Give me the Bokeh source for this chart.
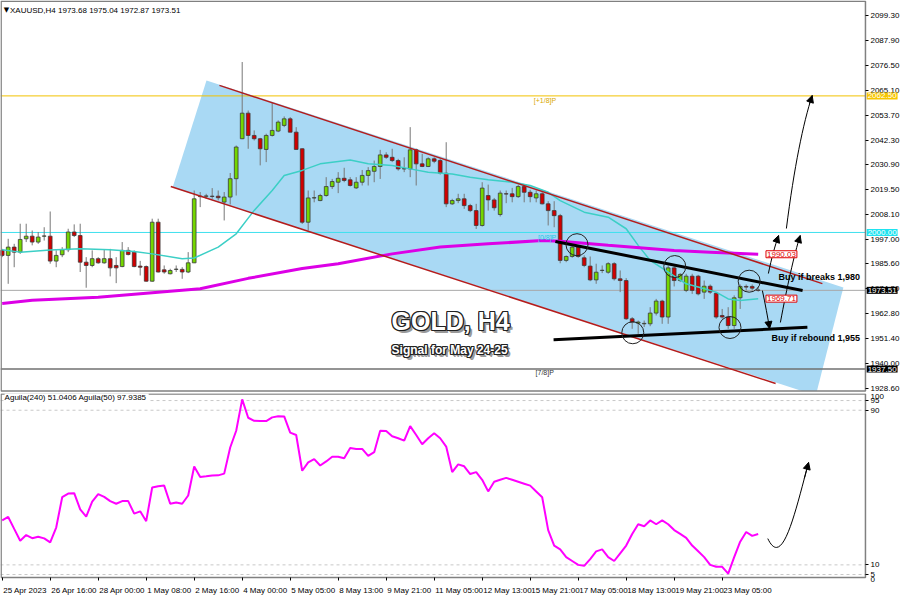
from bokeh.plotting import figure
from bokeh.layouts import column
from bokeh.models import (ColumnDataSource, FixedTicker, Label, Range1d,
                          Arrow, NormalHead, PrintfTickFormatter)
from bokeh.core.properties import value
from bokeh.embed import file_html
from bokeh.resources import INLINE

# ---------------- data ----------------
bar_open = [1991.8, 1989.5, 1993.3, 1991.0, 1997.1, 1998.3, 1995.6, 1998.3, 1998.3, 1986.9,
            1989.8, 1992.1, 2000.2, 1998.6, 1986.4, 1984.9, 1988.0, 1986.1, 1988.0, 1984.9,
            1984.4, 1991.8, 1991.0, 1984.6, 1984.4, 1977.7, 2004.7, 1982.9, 1981.1, 1983.1,
            1983.1, 1981.9, 1986.1, 2016.4, 2016.6, 2016.6, 2016.6, 2013.9, 2016.2, 2024.6,
            2042.9, 2054.6, 2044.4, 2042.9, 2038.0, 2044.4, 2046.4, 2049.0, 2052.0, 2045.9,
            2038.3, 2004.7, 2015.8, 2014.6, 2016.9, 2021.0, 2023.0, 2024.8, 2024.1, 2020.4,
            2023.0, 2026.1, 2028.0, 2030.2, 2035.5, 2034.4, 2032.9, 2029.1, 2029.1, 2037.8,
            2031.4, 2030.2, 2033.7, 2032.9, 2027.1, 2013.1, 2014.6, 2015.4, 2012.3, 2010.0,
            2003.2, 2016.9, 2014.9, 2008.2, 2017.7, 2017.7, 2016.4, 2021.0, 2018.4, 2015.8,
            2017.7, 2013.1, 2010.0, 2007.7, 1987.2, 1989.0, 1993.3, 1988.4, 1984.6, 1978.3,
            1982.6, 1981.8, 1985.7, 1978.8, 1978.0, 1960.5, 1958.5, 1958.2, 1958.2, 1963.1,
            1968.6, 1961.3, 1983.8, 1978.0, 1973.5, 1980.0, 1980.0, 1972.7, 1975.4, 1972.2,
            1962.0, 1961.3, 1957.4, 1970.1, 1975.3, 1975.3, 1973.68]
bar_high = [1992.5, 1997.1, 1994.8, 2004.0, 2004.0, 2000.9, 2000.2, 2002.4, 2009.6, 1991.8,
            1993.3, 2001.7, 2003.7, 2004.0, 1988.7, 1991.8, 1988.7, 1992.2, 1992.5, 1988.7,
            1995.6, 1993.3, 1991.8, 1987.0, 1984.9, 2006.3, 2006.3, 1984.9, 1983.4, 1984.9,
            1984.1, 1991.0, 2019.2, 2018.5, 2017.7, 2020.3, 2019.2, 2018.5, 2027.2, 2039.8,
            2078.0, 2055.8, 2046.7, 2043.3, 2045.2, 2059.3, 2051.3, 2053.1, 2052.8, 2048.2,
            2038.5, 2019.2, 2019.2, 2017.7, 2025.3, 2024.5, 2027.6, 2029.6, 2025.3, 2025.3,
            2028.6, 2029.9, 2032.9, 2037.8, 2036.7, 2038.3, 2033.7, 2034.4, 2048.2, 2038.3,
            2036.0, 2034.4, 2034.4, 2033.7, 2041.3, 2015.4, 2017.7, 2017.7, 2013.1, 2013.1,
            2023.0, 2021.9, 2015.8, 2019.2, 2019.2, 2020.4, 2021.9, 2021.9, 2019.5, 2019.2,
            2018.4, 2014.3, 2014.3, 2008.5, 1989.5, 1994.1, 1994.1, 1989.5, 1989.0, 1985.7,
            1984.9, 1986.4, 1986.4, 1982.6, 1979.1, 1961.3, 1959.7, 1959.7, 1965.8, 1969.6,
            1969.2, 1984.9, 1984.9, 1981.4, 1981.1, 1981.1, 1980.6, 1978.0, 1976.2, 1972.7,
            1965.0, 1965.8, 1971.2, 1976.2, 1976.2, 1976.2, 1975.04]
bar_low = [1988.7, 1976.5, 1984.1, 1990.2, 1995.6, 1994.1, 1994.8, 1996.3, 1985.7, 1984.1,
           1988.7, 1991.0, 1997.9, 1981.9, 1974.7, 1984.1, 1985.7, 1985.7, 1979.9, 1976.8,
           1984.1, 1989.5, 1984.1, 1980.3, 1977.5, 1977.5, 1981.7, 1981.1, 1980.8, 1981.9,
           1978.8, 1981.4, 1986.0, 2011.6, 2015.4, 2015.4, 2014.7, 2005.5, 2012.8, 2016.9,
           2042.7, 2038.3, 2042.1, 2030.7, 2032.2, 2043.9, 2045.9, 2048.2, 2045.9, 2038.0,
           2003.9, 2000.9, 2013.8, 2014.3, 2016.4, 2019.9, 2018.0, 2023.0, 2021.0, 2019.9,
           2021.5, 2021.5, 2023.0, 2024.5, 2033.7, 2032.2, 2028.3, 2027.6, 2025.3, 2021.5,
           2029.9, 2029.9, 2031.7, 2026.5, 2011.6, 2012.6, 2013.4, 2010.8, 2009.3, 2001.6,
           2002.7, 2010.0, 2010.0, 2007.3, 2013.4, 2013.8, 2015.8, 2013.8, 2013.8, 2013.8,
           2012.8, 2003.2, 2002.4, 1985.9, 1986.4, 1988.4, 1988.4, 1984.1, 1977.7, 1976.5,
           1981.4, 1981.1, 1978.0, 1972.7, 1960.0, 1955.9, 1953.6, 1956.7, 1957.1, 1962.0,
           1958.2, 1958.2, 1975.3, 1977.3, 1972.7, 1971.9, 1971.2, 1969.6, 1971.9, 1960.5,
           1960.5, 1955.9, 1955.9, 1965.0, 1973.5, 1973.5, 1972.87]
bar_close = [1989.5, 1993.3, 1991.0, 1996.8, 1998.3, 1995.6, 1997.9, 1998.4, 1986.9, 1989.5,
             1992.1, 2000.2, 1998.6, 1986.4, 1984.9, 1988.0, 1986.1, 1988.0, 1983.8, 1983.8,
             1991.8, 1989.9, 1984.4, 1984.1, 1977.7, 2004.7, 1981.9, 1981.9, 1982.6, 1983.2,
             1981.9, 1986.1, 2015.4, 2016.6, 2016.7, 2016.5, 2015.9, 2016.2, 2024.6, 2039.1,
             2054.6, 2044.4, 2042.9, 2038.3, 2044.4, 2046.7, 2050.5, 2052.0, 2045.9, 2038.0,
             2004.7, 2015.8, 2015.9, 2016.9, 2021.0, 2023.3, 2024.8, 2023.8, 2021.5, 2023.0,
             2026.1, 2028.3, 2030.2, 2035.5, 2034.4, 2032.9, 2029.1, 2029.2, 2037.8, 2031.4,
             2030.2, 2033.7, 2032.6, 2027.1, 2013.1, 2014.6, 2015.4, 2012.3, 2010.0, 2003.2,
             2020.3, 2014.9, 2011.3, 2018.0, 2017.6, 2016.4, 2021.0, 2018.4, 2016.4, 2017.7,
             2013.1, 2010.0, 2007.7, 1987.2, 1989.0, 1993.3, 1989.0, 1984.9, 1978.3, 1981.8,
             1982.7, 1985.7, 1978.8, 1978.0, 1960.5, 1959.0, 1959.0, 1958.4, 1963.1, 1968.6,
             1961.3, 1983.8, 1978.0, 1980.8, 1980.0, 1973.5, 1971.9, 1975.4, 1972.7, 1961.3,
             1961.3, 1957.4, 1970.1, 1975.3, 1975.0, 1974.5, 1973.51]

ma_fast_idx = [0, 3, 8, 13, 18, 22, 25, 30, 32, 36, 39, 42, 45, 47, 50, 53, 58, 61, 65, 68,
               71, 75, 78, 81, 85, 88, 91, 93, 97, 101, 104, 106, 108, 111, 114, 116, 119, 121,
               123, 126]
ma_fast_val = [1992.1, 1991.0, 1992.0, 1992.5, 1992.1, 1991.3, 1990.2, 1988.0, 1988.3, 1993.3,
               1999.4, 2010.1, 2019.2, 2026.1, 2028.4, 2031.4, 2033.2, 2031.4, 2030.6, 2029.1,
               2027.6, 2026.8, 2025.3, 2024.1, 2023.0, 2021.5, 2018.4, 2014.6, 2009.3, 2007.0,
               2001.7, 1994.1, 1987.2, 1981.9, 1976.5, 1975.0, 1972.7, 1969.6, 1968.9, 1969.7]
ma_slow_idx = [0, 5, 16, 33, 41, 50, 56, 65, 73, 81, 90, 93, 101, 112, 118, 126]
ma_slow_val = [1967.5, 1969.0, 1970.4, 1974.2, 1979.0, 1983.5, 1985.7, 1990.2, 1993.3, 1994.8,
               1996.3, 1996.0, 1994.1, 1991.7, 1991.0, 1990.0]

aguila = [33.0, 34.8, 28.6, 22.5, 25.4, 23.8, 24.5, 23.7, 21.6, 29.3,
          45.0, 46.9, 47.1, 38.7, 35.0, 42.7, 46.6, 45.2, 43.0, 41.6,
          43.0, 43.0, 36.5, 37.7, 32.6, 50.0, 50.7, 51.0, 41.6, 42.3,
          41.6, 45.9, 60.9, 55.5, 55.8, 56.2, 56.3, 57.2, 70.7, 79.4,
          95.6, 86.1, 84.5, 84.4, 84.4, 86.3, 86.9, 86.8, 78.4, 77.2,
          58.7, 63.0, 64.7, 61.4, 63.5, 65.9, 65.9, 65.2, 70.4, 70.0,
          70.0, 66.4, 68.3, 79.4, 79.2, 76.5, 75.5, 74.3, 81.8, 77.2,
          72.4, 75.5, 78.1, 75.5, 71.2, 58.0, 62.0, 61.0, 57.0, 58.0,
          54.0, 48.0, 53.0, 54.0, 55.0, 54.0, 53.0, 52.0, 51.0, 48.0,
          45.0, 28.0, 20.0, 18.0, 14.0, 12.0, 10.0, 9.5, 13.0, 17.0,
          18.0, 14.0, 12.0, 16.0, 20.0, 26.0, 31.0, 30.0, 33.0, 31.0,
          33.0, 31.0, 28.0, 26.0, 24.0, 20.0, 17.0, 14.0, 10.0, 9.0,
          9.0, 5.5, 14.0, 22.0, 27.0, 25.0, 26.0]

time_tick_idx = [0, 8, 16, 24, 32, 40, 48, 56, 64, 72, 80, 88, 96, 104, 112, 120]
time_tick_labels = ["25 Apr 2023", "26 Apr 16:00", "28 Apr 00:00", "1 May 08:00", "2 May 16:00",
                    "4 May 00:00", "5 May 05:00", "8 May 13:00", "9 May 21:00", "11 May 05:00",
                    "12 May 13:00", "15 May 21:00", "17 May 05:00", "18 May 13:00", "19 May 21:00",
                    "23 May 05:00"]
price_ticks = [1928.6, 1940.0, 1951.4, 1962.8, 1974.2, 1985.6, 1997.0, 2008.1, 2019.5, 2030.9,
               2042.3, 2053.7, 2065.1, 2076.5, 2087.9, 2099.3]
osc_ticks = [5, 10, 90, 95]

# drawn objects (bar index, price)
channel_poly_x = [34.05, 140.2, 135.6, 28.4]
channel_poly_y = [2069.6, 1974.8, 1925.4, 2020.6]
channel_top = ([36.2, 136.7], [2067.3, 1976.6])
channel_bot = ([28.1, 128.9], [2021.0, 1930.9])
resist_line = ([92.2, 133.4], [1995.9, 1973.4])
support_line = ([91.9, 134.2], [1950.9, 1956.6])
circle_x = [95.8, 112.1, 105.1, 121.3, 124.5]
circle_y = [1994.4, 1984.4, 1954.1, 1956.5, 1977.7]
level_plus18 = 2062.50
level_08 = 2000.00
level_78 = 1937.50
last_price = 1973.51
ma_slow_last = 1990.03
ma_fast_last = 1969.71

FONT = "Liberation Sans"
X0, XEDGE, XMAX = -0.283, 143.88, 149.72   # canvas left, panel right border, canvas right
n = len(bar_open)
xs = list(range(n))
colors = ["#74D600" if c >= o else "#D00000" for o, c in zip(bar_open, bar_close)]
src = ColumnDataSource(dict(x=xs, o=bar_open, h=bar_high, l=bar_low, c=bar_close,
                            top=[max(a, b) for a, b in zip(bar_open, bar_close)],
                            bot=[min(a, b) for a, b in zip(bar_open, bar_close)],
                            color=colors))

xr = Range1d(X0, XMAX)


def style_axis(ax):
    ax.axis_line_color = None
    ax.major_tick_out = 3
    ax.major_tick_in = 0
    ax.minor_tick_out = 0
    ax.minor_tick_in = 0
    ax.major_tick_line_color = "black"
    ax.major_label_standoff = 2
    ax.major_label_text_font = FONT
    ax.major_label_text_font_size = "8px"
    ax.major_label_text_color = "black"


# ---------------- upper panel ----------------
Y1_LO, Y1_HI, Y1_EDGE = 1926.30, 2106.16, 1927.44
p1 = figure(width=900, height=393, x_range=xr, y_range=Range1d(Y1_LO, Y1_HI),
            toolbar_location=None, output_backend="svg", x_axis_location=None,
            y_axis_location="right", min_border_left=0, min_border_right=0,
            min_border_top=0, min_border_bottom=0, background_fill_color="white",
            border_fill_color="white")
p1.grid.visible = False
p1.outline_line_color = None
ya = p1.yaxis[0]
ya.ticker = FixedTicker(ticks=price_ticks)
ya.formatter = PrintfTickFormatter(format="%.2f")
ya.fixed_location = XEDGE
style_axis(ya)

p1.patch(channel_poly_x, channel_poly_y, fill_color="#A9D9F4", line_color=None)
# white strip below the panel border (space shared with the oscillator's top label)
p1.quad(left=[X0], right=[XEDGE], bottom=[Y1_LO], top=[Y1_EDGE], fill_color="white",
        line_color=None)

hl_y = [level_plus18, level_08, last_price, level_78]
hl_c = ["#F2C200", "#3FE0EE", "#A8A8A8", "#707070"]
hl_w = [1, 1, 1, 1.5]
p1.segment(x0=[X0] * 4, x1=[XEDGE] * 4, y0=hl_y, y1=hl_y, line_color=hl_c, line_width=hl_w)

p1.segment(x0="x", y0="l", x1="x", y1="h", source=src, line_color="#777777", line_width=1)
p1.vbar(x="x", width=0.62, top="top", bottom="bot", source=src, fill_color="color",
        line_color="#3a3a3a", line_width=0.8)

p1.line(ma_fast_idx, ma_fast_val, line_color="#3CCFC6", line_width=1.5)
p1.line(ma_slow_idx, ma_slow_val, line_color="#DC00E6", line_width=3)

p1.line(*channel_top, line_color="#B41C1C", line_width=1.5)
p1.line(*channel_bot, line_color="#B41C1C", line_width=1.5)
p1.line(*resist_line, line_color="black", line_width=3)
p1.line(*support_line, line_color="black", line_width=3)
p1.scatter(circle_x, circle_y, marker="circle", size=22, fill_alpha=0, line_color="#222222",
           line_width=1)

# panel border
p1.quad(left=[X0 + 0.1], right=[XEDGE], bottom=[Y1_EDGE], top=[Y1_HI - 0.3], fill_alpha=0,
        line_color="#808080", line_width=1.5)

# arrows: (x0, y0, cx0, cy0, cx1, cy1, x1, y1)
arrows_up = [(130.7, 2001.8, 132.0, 2030.0, 133.5, 2050.0, 135.0, 2062.7),
             (127.7, 1981.2, 128.2, 1988.0, 128.8, 1994.0, 129.4, 1998.6),
             (129.7, 1958.8, 130.8, 1975.0, 132.0, 1990.0, 133.0, 1998.6),
             (126.7, 1973.4, 127.2, 1967.0, 127.6, 1961.0, 127.9, 1956.0)]
for (x0, y0, cx0, cy0, cx1, cy1, x1, y1) in arrows_up:
    p1.bezier(x0=[x0], y0=[y0], cx0=[cx0], cy0=[cy0], cx1=[cx1], cy1=[cy1], x1=[x1], y1=[y1],
              line_color="black", line_width=1)
    p1.add_layout(Arrow(end=NormalHead(size=7, fill_color="black", line_color="black"),
                        x_start=cx1 + (x1 - cx1) * 0.7, y_start=cy1 + (y1 - cy1) * 0.7,
                        x_end=x1, y_end=y1, line_color="black", line_width=1))

# texts
p1.add_layout(Label(x=0.25, y=2101.6, text="▼", text_font="DejaVu Sans", text_font_size="7px",
                    text_baseline="middle", text_color="black"))
p1.add_layout(Label(x=1.3, y=2101.6, text="XAUUSD,H4  1973.68 1975.04 1972.87 1973.51",
                    text_font=FONT, text_font_size="8px", text_baseline="middle",
                    text_color="black"))
p1.add_layout(Label(x=88.6, y=2060.3, text="[+1/8]P", text_font=FONT, text_font_size="7px",
                    text_baseline="middle", text_color="#D9A800"))
p1.add_layout(Label(x=89.3, y=1997.6, text="[0/8]P", text_font=FONT, text_font_size="7px",
                    text_baseline="middle", text_color="#22C8E8"))
p1.add_layout(Label(x=88.9, y=1935.8, text="[7/8]P", text_font=FONT, text_font_size="7px",
                    text_baseline="middle", text_color="#333333"))

p1.add_layout(Label(x=129.4, y=1979.8, text="Buy if breaks 1,980", text_font=FONT,
                    text_font_size="9px", text_font_style="bold", text_baseline="middle",
                    text_color="black"))
p1.add_layout(Label(x=128.2, y=1951.9, text="Buy if rebound 1,955", text_font=FONT,
                    text_font_size="9px", text_font_style="bold", text_baseline="middle",
                    text_color="black"))


def outlined(x, y, txt, size):
    for dx, dy in [(2, -2), (3, -3)]:
        p1.add_layout(Label(x=x, y=y, x_offset=dx, y_offset=dy, text=txt, text_font=FONT,
                            text_font_size=size, text_font_style="bold", text_color="#9a9a9a"))
    for dx in (-1, 0, 1):
        for dy in (-1, 0, 1):
            if dx == 0 and dy == 0:
                continue
            p1.add_layout(Label(x=x, y=y, x_offset=dx, y_offset=dy, text=txt, text_font=FONT,
                                text_font_size=size, text_font_style="bold",
                                text_color="#222222"))
    p1.add_layout(Label(x=x, y=y, text=txt, text_font=FONT, text_font_size=size,
                        text_font_style="bold", text_color="white"))


outlined(64.9, 1952.9, "GOLD, H4", "25px")
outlined(64.9, 1942.8, "Signal for May 24-25", "12px")

# price tags
for txt, y in [(f"{ma_slow_last:.2f}", ma_slow_last), (f"{ma_fast_last:.2f}", ma_fast_last)]:
    p1.add_layout(Label(x=127.3, y=y, text=txt, text_font=FONT, text_font_size="8px",
                        text_baseline="middle", text_color="#E00000",
                        background_fill_color="white", border_line_color="#E00000",
                        border_line_width=1, padding=1))
for txt, y, bg in [(f"{level_plus18:.2f}", level_plus18, "#F7C600"),
                   (f"{level_08:.2f}", level_08, "#1FE3F0"),
                   (f"{last_price:.2f}", last_price, "black"),
                   (f"{level_78:.2f}", level_78, "black")]:
    p1.add_layout(Label(x=XEDGE + 0.2, y=y, text=txt, text_font=FONT, text_font_size="8px",
                        text_baseline="middle", text_color="white",
                        background_fill_color=bg, padding=1))

# ---------------- lower panel ----------------
Y2_LO, Y2_HI, Y2_EDGE = -8.43, 98.65, 3.45
p2 = figure(width=900, height=207, x_range=xr, y_range=Range1d(Y2_LO, Y2_HI),
            toolbar_location=None, output_backend="svg", y_axis_location="right",
            min_border_left=0, min_border_right=0, min_border_top=0, min_border_bottom=0,
            background_fill_color="white", border_fill_color="white")
p2.grid.visible = False
p2.outline_line_color = None

p2.segment(x0=[X0] * 4, x1=[XEDGE] * 4, y0=[95, 90, 10, 5], y1=[95, 90, 10, 5],
           line_color="#C8C8C8", line_width=1, line_dash="3 3")
p2.line(xs, aguila, line_color="#FF00FF", line_width=2)

lower_arrow = (127.6, 23.6, 130.0, 8.0, 132.0, 35.0, 134.4, 63.0)
x0, y0, cx0, cy0, cx1, cy1, x1, y1 = lower_arrow
p2.bezier(x0=[x0], y0=[y0], cx0=[cx0], cy0=[cy0], cx1=[cx1], cy1=[cy1], x1=[x1], y1=[y1],
          line_color="black", line_width=1)
p2.add_layout(Arrow(end=NormalHead(size=7, fill_color="black", line_color="black"),
                    x_start=cx1 + (x1 - cx1) * 0.7, y_start=cy1 + (y1 - cy1) * 0.7,
                    x_end=x1, y_end=y1, line_color="black", line_width=1))

p2.quad(left=[X0 + 0.1], right=[XEDGE], bottom=[Y2_EDGE], top=[Y2_HI - 0.2], fill_alpha=0,
        line_color="#808080", line_width=1.5)

p2.add_layout(Label(x=0.4, y=96.6, text="Aguila(240) 51.0406  Aguila(50) 97.9385",
                    text_font=FONT, text_font_size="8px", text_baseline="middle",
                    text_color="black", background_fill_color="white"))

ra = p2.yaxis[0]
ra.ticker = FixedTicker(ticks=osc_ticks)
ra.fixed_location = XEDGE
style_axis(ra)
p2.add_layout(Label(x=XEDGE + 0.85, y=Y2_HI, text="100", text_font=FONT, text_font_size="8px",
                    text_baseline="top", text_color="black"))
p2.add_layout(Label(x=XEDGE + 0.85, y=2.6, text="0", text_font=FONT, text_font_size="8px",
                    text_baseline="middle", text_color="black"))

xa = p2.xaxis[0]
xa.ticker = FixedTicker(ticks=time_tick_idx)
xa.major_label_overrides = {k: "" for k in time_tick_idx}
xa.fixed_location = Y2_EDGE
style_axis(xa)
p2.text(x=time_tick_idx, y=[-3.3] * len(time_tick_idx), text=time_tick_labels,
        text_align="left", text_baseline="middle", text_font=value(FONT),
        text_font_size="8px", text_color="black", x_offset=1)

layout = column(p1, p2, spacing=0)
open("out.html", "w").write(file_html(layout, INLINE))
